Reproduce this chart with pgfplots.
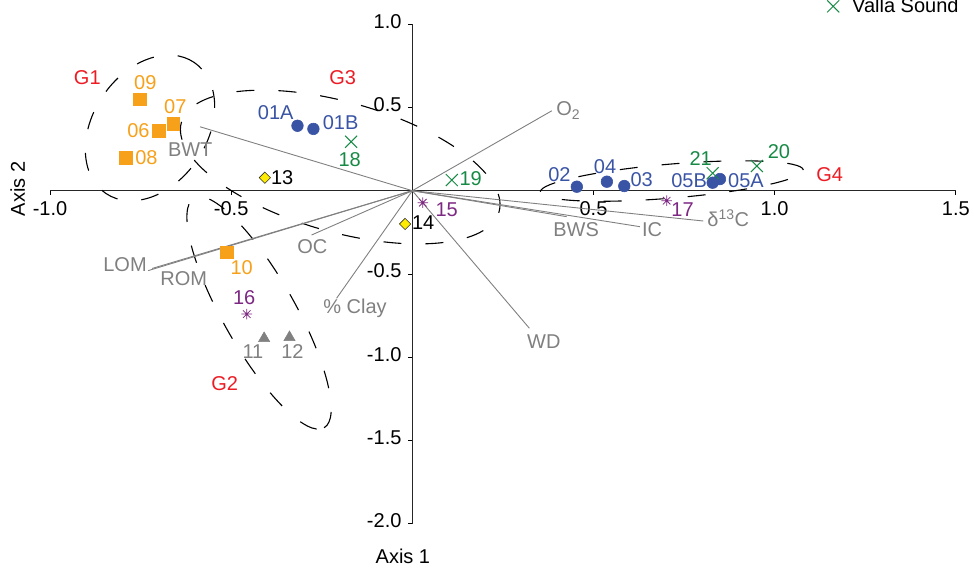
\documentclass[border=0pt]{standalone}
\usepackage{fontspec}
\setmainfont{Liberation Sans}
\usepackage{pgfplots}
\pgfplotsset{compat=1.18}
\definecolor{cOrange}{RGB}{247,160,26}
\definecolor{cBlue}{RGB}{58,84,165}
\definecolor{cGreen}{RGB}{22,138,68}
\definecolor{cPurple}{RGB}{125,40,130}
\definecolor{cGray}{RGB}{128,128,128}
\definecolor{cRed}{RGB}{237,28,36}
\definecolor{cYellow}{RGB}{255,236,0}
\pgfdeclareplotmark{ast8}{%
  \pgfpathmoveto{\pgfqpoint{-\pgfplotmarksize}{0pt}}\pgfpathlineto{\pgfqpoint{\pgfplotmarksize}{0pt}}%
  \pgfpathmoveto{\pgfqpoint{0pt}{-\pgfplotmarksize}}\pgfpathlineto{\pgfqpoint{0pt}{\pgfplotmarksize}}%
  \pgfpathmoveto{\pgfqpoint{-.7071\pgfplotmarksize}{-.7071\pgfplotmarksize}}\pgfpathlineto{\pgfqpoint{.7071\pgfplotmarksize}{.7071\pgfplotmarksize}}%
  \pgfpathmoveto{\pgfqpoint{-.7071\pgfplotmarksize}{.7071\pgfplotmarksize}}\pgfpathlineto{\pgfqpoint{.7071\pgfplotmarksize}{-.7071\pgfplotmarksize}}%
  \pgfusepathqstroke}
\pgfplotsset{myleg/.style={legend image code/.code={\path[draw=none,fill=none] (0pt,-0.1pt) rectangle (25.5pt,0.1pt); \draw[mark repeat=2,mark phase=2,##1] plot coordinates {(0pt,0pt) (8.5pt,0pt) (25.5pt,0pt)};}}}
\newcommand{\fs}{\fontsize{20}{24}\selectfont}
\begin{document}
\fs
\begin{tikzpicture}[font=\fs,
  lab/.style={anchor=base, inner sep=0pt},
  ell/.style={black, line width=1.1pt, dash pattern=on 18pt off 24pt},
  vec/.style={cGray, line width=0.9pt}]
\begin{axis}[
  at={(50pt,46.3pt)}, anchor=south west,
  scale only axis, width=905.8pt, height=499.5pt,
  xmin=-1, xmax=1.5, ymin=-2, ymax=1,
  axis lines=middle,
  axis line style={-, line width=1.3pt, black!85},
  xtick={-1,-0.5,0.5,1,1.5},
  ytick={-2,-1.5,-1,-0.5,0.5,1},
  tick align=outside,
  major tick length=4pt,
  tick style={black, line width=0.8pt},
  /pgf/number format/fixed,
  /pgf/number format/fixed zerofill,
  /pgf/number format/precision=1,
  /pgf/number format/assume math mode=true,
  tick label style={font=\fs},
  yticklabel style={yshift=3pt},
  clip=false,
  xlabel={Axis 1}, ylabel={Axis 2},
  label style={font=\fs},
  xlabel style={at={(axis description cs:0.3896,-0.0787)}, anchor=base},
  ylabel style={at={(axis description cs:-0.0276,0.670)}, rotate=90, anchor=base},
  legend style={draw=none, fill=none, at={(0.8517,1.0357)}, anchor=west, font=\fs},
]
% group ellipses
\draw[ell] (axis cs:-0.724,0.377) circle[x radius=79pt, y radius=57pt, rotate=56];
\draw[ell] (axis cs:-0.199,0.142) circle[x radius=165pt, y radius=65pt, rotate=-15.7];
\draw[ell] (axis cs:-0.423,-0.734) circle[x radius=132pt, y radius=36pt, rotate=-60.5];
\draw[ell] (axis cs:0.716,0.058) circle[x radius=132pt, y radius=17pt, rotate=4.8];
% environmental vectors
\addplot[vec, forget plot] coordinates {(0,0) (-0.586,0.384)};   % BWT
\addplot[vec, forget plot] coordinates {(0,0) (0.385,0.480)};    % O2
\addplot[vec, forget plot] coordinates {(0,0) (-0.729,-0.480)};  % LOM
\addplot[vec, forget plot] coordinates {(0,0) (-0.718,-0.467)};  % ROM
\addplot[vec, forget plot] coordinates {(0,0) (-0.278,-0.266)};  % OC
\addplot[vec, forget plot] coordinates {(0,0) (-0.209,-0.646)};  % Clay
\addplot[vec, forget plot] coordinates {(0,0) (0.323,-0.826)};   % WD
\addplot[vec, forget plot] coordinates {(0,0) (0.426,-0.156)};   % BWS
\addplot[vec, forget plot] coordinates {(0,0) (0.628,-0.216)};   % IC
\addplot[vec, forget plot] coordinates {(0,0) (0.803,-0.182)};   % d13C
% sites
\addplot[only marks, mark=square*, mark size=6.3pt, color=cOrange, line width=0.6pt, forget plot]
  coordinates {(-0.752,0.549) (-0.660,0.401) (-0.700,0.359) (-0.790,0.197) (-0.512,-0.370)};
\addplot[only marks, mark=*, mark size=5.8pt, color=cBlue, line width=0.6pt, forget plot]
  coordinates {(-0.317,0.390) (-0.273,0.371) (0.454,0.024) (0.537,0.054) (0.585,0.028) (0.829,0.048) (0.849,0.070)};
\addplot[only marks, mark=triangle*, mark size=6.5pt, color=cGray, line width=0.5pt, forget plot]
  coordinates {(-0.409,-0.887) (-0.339,-0.881)};
\addplot[only marks, mark=square*, mark size=4pt, mark options={rotate=45, fill=cYellow, draw=black!80, line width=0.6pt}, forget plot]
  coordinates {(-0.407,0.078) (-0.020,-0.200)};
\addplot[only marks, mark=ast8, mark size=5.3pt, color=cPurple, line width=0.8pt, forget plot]
  coordinates {(0.029,-0.072) (0.702,-0.060) (-0.457,-0.741)};
\addplot[only marks, mark=x, mark size=8.5pt, color=cGreen, line width=1pt, myleg]
  coordinates {(-0.169,0.294) (0.109,0.064) (0.829,0.105) (0.951,0.148)};
\addlegendentry{Valla Sound}
% site labels
\node[lab, cOrange] at (axis cs:-0.737,0.605) {09};
\node[lab, cOrange] at (axis cs:-0.654,0.461) {07};
\node[lab, cOrange] at (axis cs:-0.756,0.321) {06};
\node[lab, cOrange] at (axis cs:-0.734,0.160) {08};
\node[lab, cOrange] at (axis cs:-0.471,-0.506) {10};
\node[lab, cBlue] at (axis cs:-0.377,0.425) {01A};
\node[lab, cBlue] at (axis cs:-0.198,0.365) {01B};
\node[lab, cBlue] at (axis cs:0.406,0.054) {02};
\node[lab, cBlue] at (axis cs:0.532,0.104) {04};
\node[lab, cBlue] at (axis cs:0.633,0.024) {03};
\node[lab, cBlue] at (axis cs:0.764,0.020) {05B};
\node[lab, cBlue] at (axis cs:0.921,0.020) {05A};
\node[lab, cGreen] at (axis cs:-0.173,0.144) {18};
\node[lab, cGreen] at (axis cs:0.161,0.034) {19};
\node[lab, cGreen] at (axis cs:0.796,0.154) {21};
\node[lab, cGreen] at (axis cs:1.012,0.195) {20};
\node[lab, cPurple] at (axis cs:0.095,-0.156) {15};
\node[lab, cPurple] at (axis cs:0.746,-0.156) {17};
\node[lab, cPurple] at (axis cs:-0.464,-0.686) {16};
\node[lab, cGray] at (axis cs:-0.440,-1.007) {11};
\node[lab, cGray] at (axis cs:-0.331,-1.007) {12};
\node[lab, black] at (axis cs:-0.359,0.040) {13};
\node[lab, black] at (axis cs:0.030,-0.236) {14};
% group labels
\node[lab, cRed] at (axis cs:-0.897,0.635) {G1};
\node[lab, cRed] at (axis cs:-0.192,0.635) {G3};
\node[lab, cRed] at (axis cs:-0.518,-1.197) {G2};
\node[lab, cRed] at (axis cs:1.152,0.054) {G4};
% vector labels
\node[lab, cGray] at (axis cs:-0.613,0.204) {BWT};
\node[lab, cGray] at (axis cs:-0.793,-0.486) {LOM};
\node[lab, cGray] at (axis cs:-0.631,-0.572) {ROM};
\node[lab, cGray] at (axis cs:-0.276,-0.380) {OC};
\node[lab, cGray] at (axis cs:0.452,-0.276) {BWS};
\node[lab, cGray] at (axis cs:0.662,-0.276) {IC};
\node[lab, cGray] at (axis cs:0.363,-0.947) {WD};
\node[lab, cGray, anchor=base west] at (axis cs:0.397,0.449) {O\textsubscript{2}};
\node[lab, cGray, anchor=base west] at (axis cs:-0.246,-0.736) {\% Clay};
\node[lab, cGray, anchor=base west] at (axis cs:0.814,-0.216) {δ\textsuperscript{13}C};
\end{axis}
\pgfresetboundingbox
\useasboundingbox (0,0) rectangle (974pt,570pt);
\end{tikzpicture}
\end{document}
